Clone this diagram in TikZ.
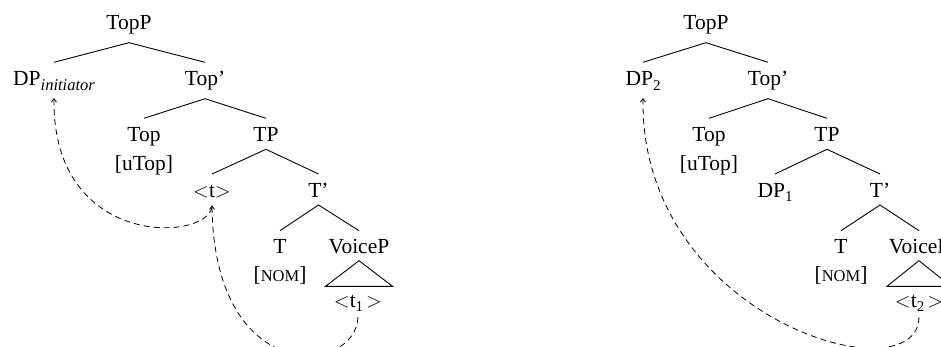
\documentclass[tikz,border=0pt]{standalone}
\usepackage{fontspec}
\setmainfont{Liberation Serif}
\usetikzlibrary{arrows.meta}
\newcommand\sbs[1]{\raisebox{-4.5pt}{\fontsize{15}{15}\selectfont #1}}
\newcommand\lt{\ensuremath{<}}
\newcommand\gt{\ensuremath{>}}
\newcommand\nomsc{[{\fontsize{16.5}{18}\selectfont NOM}]}
\tikzset{
  lab/.style={anchor=base, inner sep=0pt, font=\fontsize{21.5}{26}\selectfont},
  br/.style={line width=0.9pt},
  mv/.style={-{Straight Barb[length=3.5pt,width=5pt]}, line width=0.8pt, dash pattern=on 6pt off 4pt}
}
\begin{document}
\begin{tikzpicture}[x=1pt,y=-1pt]
\useasboundingbox (0,0) rectangle (941,347);
\clip (0,0) rectangle (941,347);

% ---------- left tree ----------
\node[lab] (LTopP) at (129,30) {TopP};
\node[lab] (LDP) at (54,86) {DP\raisebox{-4.5pt}{\fontsize{16.5}{18}\selectfont\itshape initiator}};
\node[lab] (LTopb) at (205,86) {Top'};
\node[lab] (LTop) at (144,141.7) {Top};
\node[lab] (LuTop) at (144,171) {[uTop]};
\node[lab] (LTP) at (266,141.7) {TP};
\node[lab] (Lt) at (212,197.3) {\lt t\gt};
\node[lab] (LTb) at (318.5,197.3) {T'};
\node[lab] (LT) at (280,253) {T};
\node[lab] (LNOM) at (280,281) {\nomsc};
\node[lab] (LVoiceP) at (359,253) {VoiceP};
\node[lab] (Lt1) at (358,307) {\lt t\sbs{1}\kern3pt\gt};

\draw[br] ([yshift=23.7pt]LDP.base) -- ([yshift=-12.7pt]LTopP.base) -- ([yshift=23.7pt]LTopb.base);
\draw[br] ([yshift=23.4pt]LTop.base) -- ([yshift=-12.7pt]LTopb.base) -- ([yshift=23.4pt]LTP.base);
\draw[br] ([yshift=23.3pt]Lt.base) -- ([yshift=-7.6pt]LTP.base) -- ([yshift=23.3pt]LTb.base);
\draw[br] ([yshift=22.3pt]LT.base) -- ([yshift=-7.7pt]LTb.base) -- ([yshift=22.3pt]LVoiceP.base);
\draw[br] ([yshift=-7.7pt]LVoiceP.base) -- ([xshift=-33.5pt,yshift=-33.3pt]LVoiceP.base) -- ([xshift=33.5pt,yshift=-33.3pt]LVoiceP.base) -- cycle;

\draw[mv] ([yshift=-10pt]Lt.base) .. controls (205,242) and (52,248) .. ([yshift=-12pt]LDP.base);
\draw[mv] ([yshift=-10pt]Lt1.base) .. controls (356,375) and (214,388) .. ([yshift=-8pt]Lt.base);

% ---------- right tree ----------
\node[lab] (RTopP) at (706,30) {TopP};
\node[lab] (RDP) at (643,86) {DP\sbs{2}};
\node[lab] (RTopb) at (768,86) {Top'};
\node[lab] (RTop) at (709,141.7) {Top};
\node[lab] (RuTop) at (709,171) {[uTop]};
\node[lab] (RTP) at (827,141.7) {TP};
\node[lab] (RDP1) at (775,197.3) {DP\sbs{1}};
\node[lab] (RTb) at (880,197.3) {T'};
\node[lab] (RT) at (841,253) {T};
\node[lab] (RNOM) at (841,281) {\nomsc};
\node[lab] (RVoiceP) at (919,253) {VoiceP};
\node[lab] (Rt2) at (919,307) {\lt t\sbs{2}\kern3pt\gt};

\draw[br] ([yshift=23.7pt]RDP.base) -- ([yshift=-12.7pt]RTopP.base) -- ([yshift=23.7pt]RTopb.base);
\draw[br] ([yshift=23.4pt]RTop.base) -- ([yshift=-12.7pt]RTopb.base) -- ([yshift=23.4pt]RTP.base);
\draw[br] ([yshift=23.3pt]RDP1.base) -- ([yshift=-7.6pt]RTP.base) -- ([yshift=23.3pt]RTb.base);
\draw[br] ([yshift=22.3pt]RT.base) -- ([yshift=-7.7pt]RTb.base) -- ([yshift=22.3pt]RVoiceP.base);
\draw[br] ([yshift=-7.7pt]RVoiceP.base) -- ([xshift=-32pt,yshift=-33.3pt]RVoiceP.base) -- ([xshift=32pt,yshift=-33.3pt]RVoiceP.base) -- cycle;

\draw[mv] ([yshift=-10pt]Rt2.base) .. controls (918,398) and (640,320) .. ([yshift=-12pt]RDP.base);
\end{tikzpicture}
\end{document}
